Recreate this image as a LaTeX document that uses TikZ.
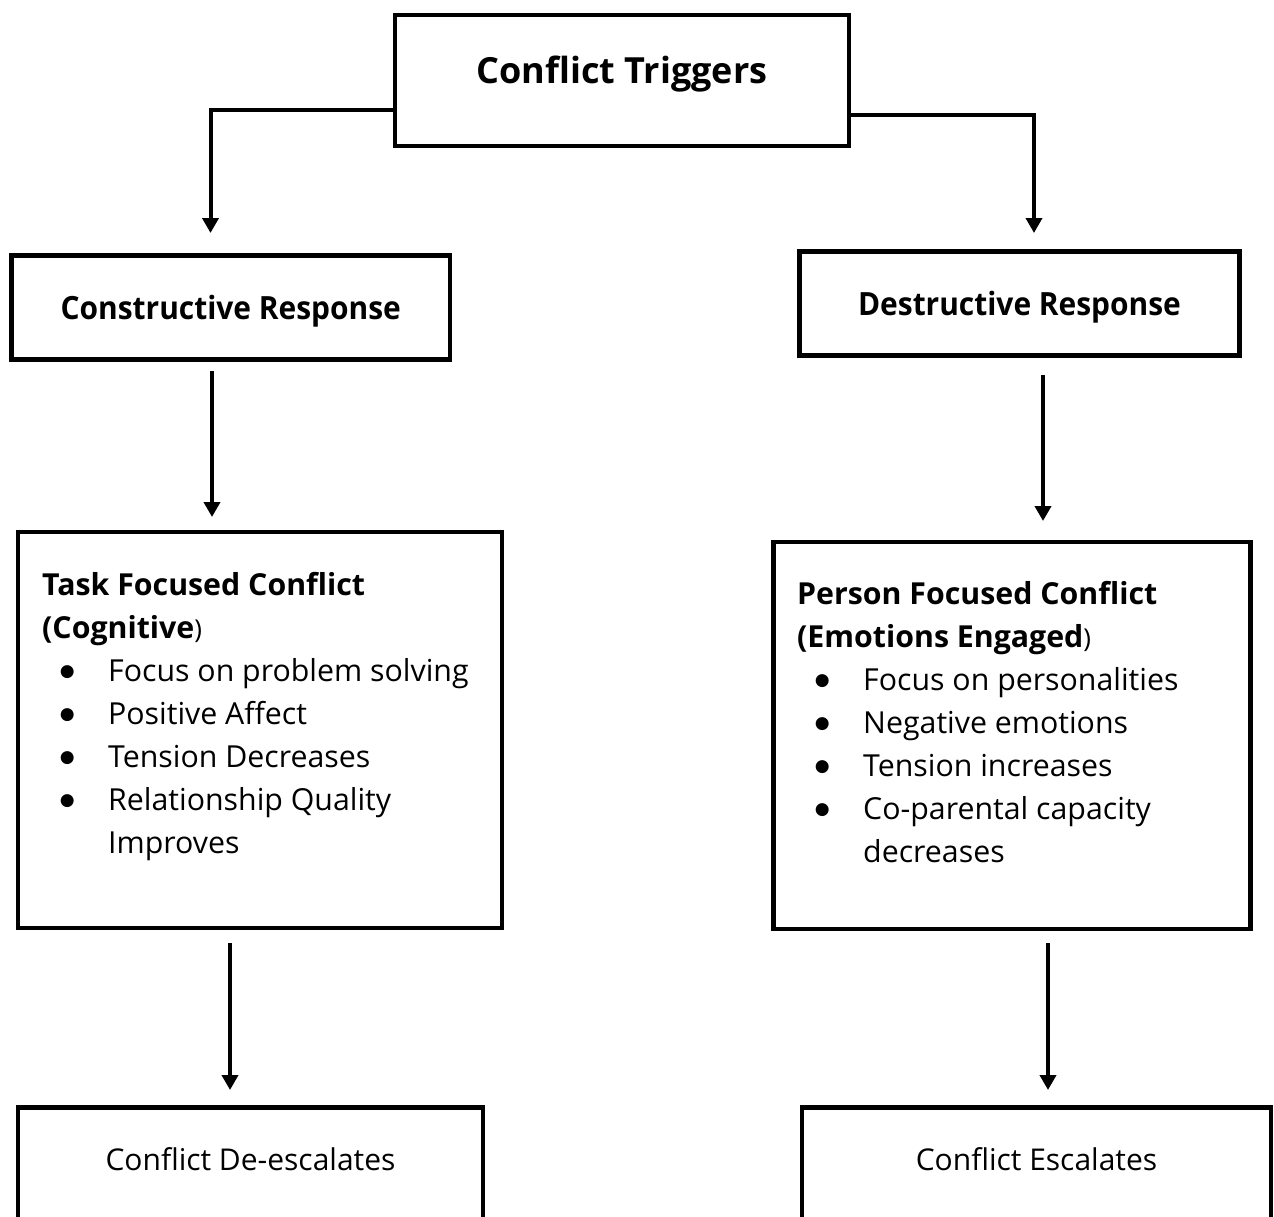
\documentclass[tikz,border=0pt]{standalone}
\usepackage{fontspec}
\setmainfont{Open Sans}
\newfontfamily\headfont{Open Sans}[FakeStretch=0.935]
\newfontfamily\symfont{DejaVu Sans}
\usetikzlibrary{arrows.meta,calc}
% bullet item: a round bullet centred 25pt in, text column starting 66pt in
\newcommand\bigbullet{\raisebox{4.5pt}{\symfont\fontsize{17}{18}\selectfont ●}}
\newcommand\bitem{\makebox[66pt][l]{\hspace{25pt}\makebox[0pt][c]{\bigbullet}}}
\begin{document}
\begin{tikzpicture}[x=1pt,y=-1pt,
  box/.style={draw,line width=4.5pt,rectangle,inner sep=0pt,outer sep=0pt},
  conn/.style={line width=4pt,-{Triangle[width=16pt,length=15pt]}},
  title/.style={anchor=base,inner sep=0pt,font=\bfseries\fontsize{36}{44}\selectfont},
  head/.style={anchor=base,inner sep=0pt,font=\headfont\bfseries\fontsize{32}{40}\selectfont},
  body/.style={anchor=base west,inner sep=0pt,font=\fontsize{30.3}{43}\selectfont},
  result/.style={anchor=base,inner sep=0pt,font=\fontsize{30}{40}\selectfont},
]
\clip (0,0) rectangle (1274,1216);
\fill[white] (0,0) rectangle (1274,1216);

% boxes
\node[box,minimum width=454pt,minimum height=131pt] (trig) at (622,80.5) {};
\node[box,minimum width=438.5pt,minimum height=104pt] (cons) at (230.75,307.5) {};
\node[box,minimum width=440pt,minimum height=104pt] (dest) at (1019.5,303.5) {};
\node[box,minimum width=484pt,minimum height=396pt] (task) at (260,730) {};
\node[box,minimum width=477pt,minimum height=387pt] (pers) at (1012,735.5) {};
\node[box,minimum width=465pt,minimum height=200pt] (deesc) at (250.5,1207.5) {};
\node[box,minimum width=469pt,minimum height=200pt] (esc) at (1036.5,1207.5) {};

% texts
\node[title] (trigtxt) at (622,83) {Conflict Triggers};
\node[head] (constxt) at (230.75,319) {Constructive Response};
\node[head] (desttxt) at (1019.5,315) {Destructive Response};
\node[body] (tasktxt) at (42,595) {\vtop{\hsize=470pt\parindent=0pt
  \textbf{Task Focused Conflict}\par
  \textbf{(Cognitive}{\fontsize{26}{43}\selectfont)}\par
  \bitem Focus on problem solving\par
  \bitem Positive Affect\par
  \bitem Tension Decreases\par
  \bitem Relationship Quality\par
  \hspace*{66pt}Improves\par}};
\node[body] (perstxt) at (797,604) {\vtop{\hsize=460pt\parindent=0pt
  \textbf{Person Focused Conflict}\par
  \textbf{(Emotions Engaged}{\fontsize{26}{43}\selectfont)}\par
  \bitem Focus on personalities\par
  \bitem Negative emotions\par
  \bitem Tension increases\par
  \bitem Co-parental capacity\par
  \hspace*{66pt}decreases\par}};
\node[result] (deesctxt) at (250.5,1170) {Conflict De-escalates};
\node[result] (esctxt) at (1036.5,1170) {Conflict Escalates};

% connectors
\coordinate (lt) at (210.5,233);
\coordinate (rt) at (1034,233);
\draw[conn] ([yshift=-29pt]trig.west) -| (lt);
\draw[conn,line width=3.5pt] ([yshift=-34.5pt]trig.east) -| (rt);
\draw[conn,shorten <=11.5pt,shorten >=15pt] ([xshift=-18.75pt]cons.south) -- ([xshift=-18.75pt]cons.south |- task.north);
\draw[conn,shorten <=19.5pt,shorten >=21pt] ([xshift=23.5pt]dest.south) -- ([xshift=23.5pt]dest.south |- pers.north);
\draw[conn,shorten <=15pt,shorten >=17.5pt] ([xshift=-30pt]task.south) -- ([xshift=-30pt]task.south |- deesc.north);
\draw[conn,shorten <=14pt,shorten >=17.5pt] ([xshift=36pt]pers.south) -- ([xshift=36pt]pers.south |- esc.north);
\end{tikzpicture}
\end{document}
